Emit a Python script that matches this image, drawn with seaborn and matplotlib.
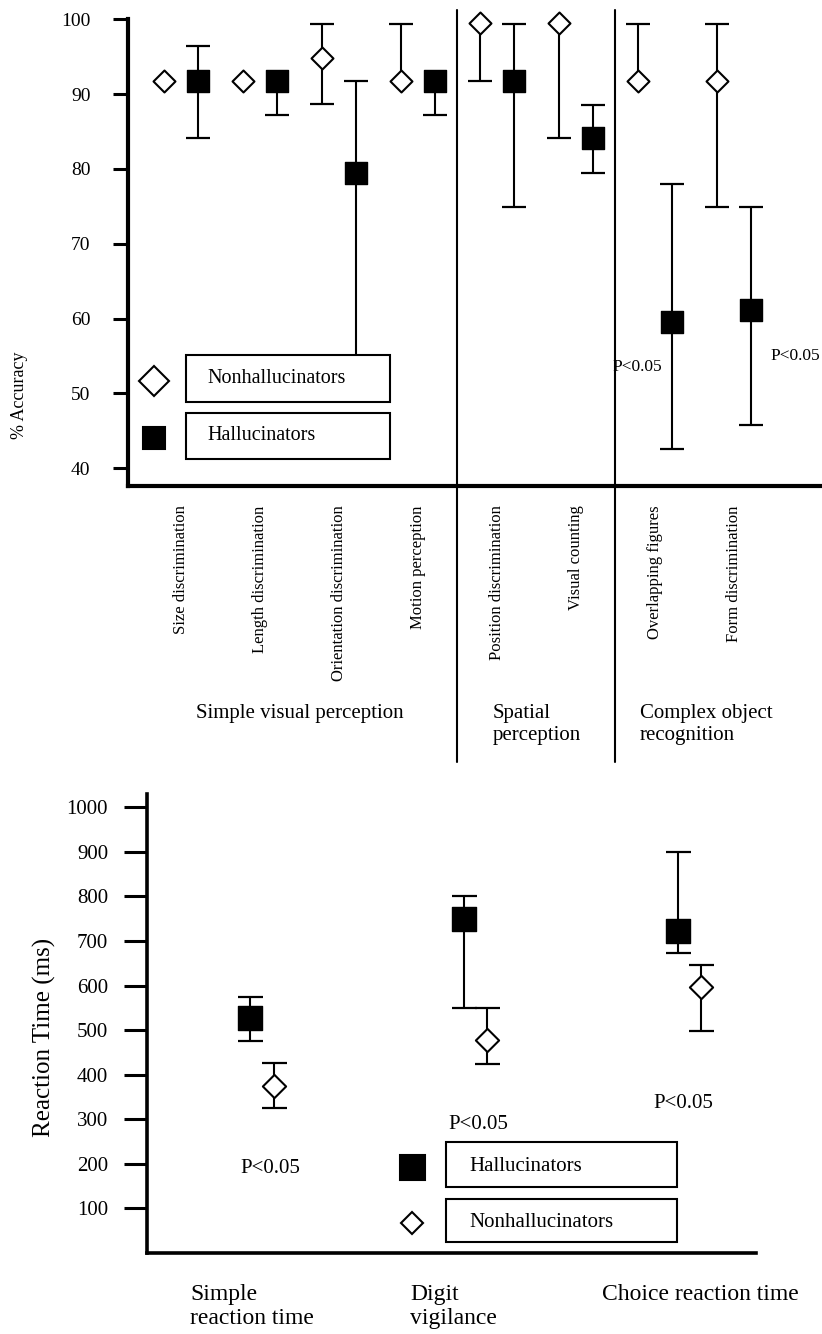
import numpy as np
import pandas as pd
import matplotlib
matplotlib.use("Agg")
import matplotlib.pyplot as plt
import seaborn as sns
from matplotlib.patches import Rectangle
from matplotlib.transforms import blended_transform_factory

# --- data: visual perception accuracy (%) ---
vis_tasks = ["Size discrimination", "Length discrimination", "Orientation discrimination",
             "Motion perception", "Position discrimination", "Visual counting",
             "Overlapping figures", "Form discrimination"]
vis_groups = ["Simple visual perception", "Spatial\nperception", "Complex object\nrecognition"]

vis_non_mean = [91.8, 91.8, 94.9, 91.8, 99.5, 99.5, 91.8, 91.8]
vis_non_low = [91.8, 91.8, 88.7, 91.8, 91.8, 84.2, 91.8, 74.9]
vis_non_high = [91.8, 91.8, 99.4, 99.4, 99.5, 99.5, 99.4, 99.4]

vis_hal_mean = [91.8, 91.8, 79.5, 91.8, 91.8, 84.2, 59.5, 61.1]
vis_hal_low = [84.2, 87.2, 50.0, 87.2, 74.9, 79.5, 42.6, 45.7]
vis_hal_high = [96.4, 91.8, 91.8, 91.8, 99.4, 88.6, 78.0, 74.9]

# --- data: reaction times (ms) ---
rt_tasks = ["Simple\nreaction time", "Digit\nvigilance", "Choice reaction time"]

rt_hal_mean = [527, 749, 723]
rt_hal_low = [476, 550, 674]
rt_hal_high = [574, 800, 900]

rt_non_mean = [375, 478, 597]
rt_non_low = [325, 424, 498]
rt_non_high = [426, 550, 647]

sns.set_style("ticks")
plt.rcParams["font.family"] = ["Liberation Serif", "DejaVu Serif"]
plt.rcParams.update({"text.color": "black", "axes.labelcolor": "black",
                     "xtick.color": "black", "ytick.color": "black",
                     "axes.edgecolor": "black"})


def draw_bars(ax, x, mean, low, high, cap):
    x, mean, low, high = (np.asarray(a, dtype=float) for a in (x, mean, low, high))
    ax.vlines(x, low, high, color="black", lw=1.5, zorder=2, clip_on=False)
    lo = low < mean
    hi = high > mean
    ax.plot(x[lo], low[lo], ls="none", marker="_", ms=cap, mew=1.6,
            color="black", zorder=2, clip_on=False)
    ax.plot(x[hi], high[hi], ls="none", marker="_", ms=cap, mew=1.6,
            color="black", zorder=2, clip_on=False)


def draw_points(ax, x, mean, kind, size):
    d = pd.DataFrame({"x": x, "mean": mean})
    if kind == "non":
        sns.scatterplot(data=d, x="x", y="mean", marker="D", s=size, color="white",
                        edgecolor="black", linewidth=1.5, ax=ax, zorder=3,
                        clip_on=False, legend=False)
    else:
        sns.scatterplot(data=d, x="x", y="mean", marker="s", s=size, color="black",
                        edgecolor="black", linewidth=1, ax=ax, zorder=3,
                        clip_on=False, legend=False)


fig = plt.figure(figsize=(8.22, 13.34), dpi=100)

# ============================================================
# TOP PANEL: % accuracy
# ============================================================
ax1 = fig.add_axes([0.1557, 0.6357, 0.8443, 0.3497])
pos = np.arange(len(vis_tasks))
off = 0.215

draw_bars(ax1, pos - off, vis_non_mean, vis_non_low, vis_non_high, 17)
draw_bars(ax1, pos + off, vis_hal_mean, vis_hal_low, vis_hal_high, 17)
draw_points(ax1, pos - off, vis_non_mean, "non", 125)
draw_points(ax1, pos + off, vis_hal_mean, "hal", 270)

ax1.set_xlim(-0.671, 8.114)
ax1.set_ylim(37.6, 100)
ax1.set_yticks(range(40, 101, 10))
ax1.set_xticks(pos)
ax1.set_xticklabels(vis_tasks, rotation=90, fontsize=12)
ax1.tick_params(axis="x", length=0, pad=14)
ax1.tick_params(axis="y", length=11, width=2.2, labelsize=14, pad=16)
ax1.set_xlabel("")
ax1.set_ylabel("")
for s in ["left", "bottom"]:
    ax1.spines[s].set_linewidth(3)
sns.despine(ax=ax1)

ax1.text(-0.157, 0.195, "% Accuracy", rotation=90, ha="center", va="center",
         fontsize=13, transform=ax1.transAxes)

tr1 = blended_transform_factory(ax1.transData, ax1.transAxes)
for sep in [3.5, 5.5]:
    ax1.plot([sep, sep], [1.02, -0.592], color="black", lw=1.5,
             transform=tr1, clip_on=False)
for gx, label in zip([1.5, 4.5, 6.65], vis_groups):
    ax1.text(gx, -0.467, label, ha="center", va="top", multialignment="left",
             fontsize=15, linespacing=1.25, transform=tr1)

ax1.text(5.78, 53.5, "P<0.05", ha="center", va="center", fontsize=12.5)
ax1.text(7.77, 55.0, "P<0.05", ha="center", va="center", fontsize=12.5)

# legend boxes
for (y0, h), label, mk, ms, fc in [((0.180, 0.101), "Nonhallucinators", "D", 15, "white"),
                                   ((0.058, 0.099), "Hallucinators", "s", 16.5, "black")]:
    ax1.add_patch(Rectangle((0.0836, y0), 0.2939, h, transform=ax1.transAxes,
                            facecolor="white", edgecolor="black", lw=1.5,
                            zorder=4, clip_on=False))
    ax1.text(0.1138, y0 + h / 2, label, ha="left", va="center", fontsize=14.5,
             transform=ax1.transAxes, zorder=5)
    ax1.plot([0.037], [y0 + h / 2 - 0.005], marker=mk, ms=ms, mfc=fc, mec="black",
             mew=1.5, ls="none", transform=ax1.transAxes, clip_on=False, zorder=5)

# ============================================================
# BOTTOM PANEL: reaction time
# ============================================================
ax2 = fig.add_axes([0.1788, 0.0607, 0.7409, 0.3441])
rpos = np.arange(len(rt_tasks))
roff = 0.054

draw_bars(ax2, rpos - roff, rt_hal_mean, rt_hal_low, rt_hal_high, 18)
draw_bars(ax2, rpos + roff, rt_non_mean, rt_non_low, rt_non_high, 18)
draw_points(ax2, rpos - roff, rt_hal_mean, "hal", 275)
draw_points(ax2, rpos + roff, rt_non_mean, "non", 140)

ax2.set_xlim(-0.538, 2.311)
ax2.set_ylim(0, 1030)
ax2.set_yticks(range(100, 1001, 100))
ax2.set_xticks([])
ax2.tick_params(axis="y", length=16.5, width=2.2, labelsize=15, pad=11.5)
ax2.set_xlabel("")
ax2.set_ylabel("")
for s in ["left", "bottom"]:
    ax2.spines[s].set_linewidth(2.6)
sns.despine(ax=ax2)

# task names under the axis, left-aligned like the original
tr2 = blended_transform_factory(ax2.transData, ax2.transAxes)
for i, (label, shift) in enumerate(zip(rt_tasks, [-0.337, -0.308, -0.409])):
    ax2.text(i + shift, -0.068, label, ha="left", va="top", fontsize=17,
             linespacing=1.15, transform=tr2)

ax2.text(-0.169, 0.4706, "Reaction Time (ms)", rotation=90, ha="center", va="center",
         fontsize=18, transform=ax2.transAxes)

ax2.text(0.04, 190, "P<0.05", ha="center", va="center", fontsize=15)
ax2.text(1.01, 289, "P<0.05", ha="center", va="center", fontsize=15)
ax2.text(1.97, 336, "P<0.05", ha="center", va="center", fontsize=15)

for (y0, h), label, mk, ms, fc in [((0.1438, 0.098), "Hallucinators", "s", 18, "black"),
                                   ((0.024, 0.0936), "Nonhallucinators", "D", 11.5, "white")]:
    ax2.add_patch(Rectangle((0.491, y0), 0.379, h, transform=ax2.transAxes,
                            facecolor="white", edgecolor="black", lw=1.5,
                            zorder=4, clip_on=False))
    ax2.text(0.529, y0 + h / 2 - 0.005, label, ha="left", va="center", fontsize=15,
             transform=ax2.transAxes, zorder=5)
    ax2.plot([0.435], [y0 + h / 2 - 0.005], marker=mk, ms=ms, mfc=fc, mec="black",
             mew=1.5, ls="none", transform=ax2.transAxes, clip_on=False, zorder=5)

fig.savefig("out.png", dpi=100)
